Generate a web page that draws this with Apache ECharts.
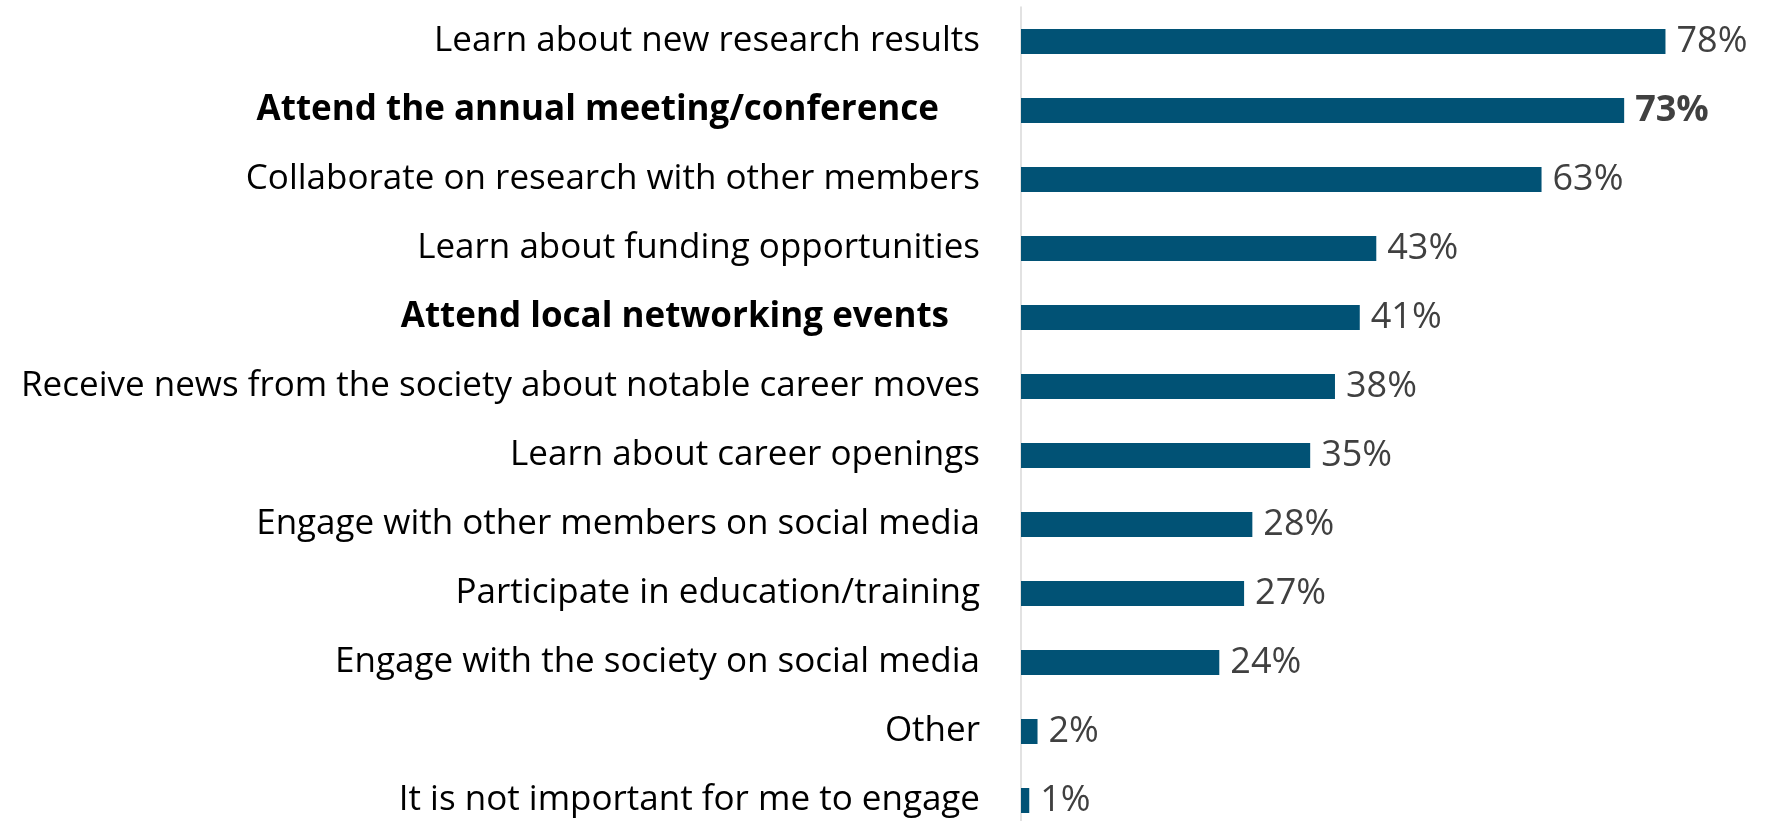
<!DOCTYPE html>
<html>
<head>
<meta charset="utf-8">
<script src="https://cdn.jsdelivr.net/npm/echarts@6/dist/echarts.min.js"></script>
<style>
  html, body { margin: 0; padding: 0; background: #fff; width: 1783px; height: 821px; overflow: hidden; }
  /* the plot runs past the bottom edge in the original, so the chart is a bit taller than the page */
  #chart { width: 1783px; height: 835px; }
</style>
</head>
<body>
<div id="chart"></div>
<script>
  // categories, top to bottom
  const categories = [
    'Learn about new research results',
    'Attend the annual meeting/conference',
    'Collaborate on research with other members',
    'Learn about funding opportunities',
    'Attend local networking events',
    'Receive news from the society about notable career moves',
    'Learn about career openings',
    'Engage with other members on social media',
    'Participate in education/training',
    'Engage with the society on social media',
    'Other',
    'It is not important for me to engage'
  ]
  const values = [78, 73, 63, 43, 41, 38, 35, 28, 27, 24, 2, 1]
  // categories drawn in bold on the axis
  const boldCategories = ['Attend the annual meeting/conference', 'Attend local networking events']
  // only this value label is bold
  const boldValueIndex = 1

  const chart = echarts.init(document.getElementById('chart'))
  const fontFamily = 'Open Sans'
  const fontSize = 35

  const option = {
    animation: false,
    grid: {
      left: 1021,
      width: 661,
      top: 7,
      bottom: 0
    },
    xAxis: {
      type: 'value',
      min: 0,
      max: 80,
      show: false
    },
    yAxis: {
      type: 'category',
      data: categories,
      inverse: true,
      axisLine: { show: true, lineStyle: { color: '#d9d9d9', width: 1.5 } },
      axisTick: { show: false },
      axisLabel: {
        margin: 41,
        color: '#000',
        fontFamily: fontFamily,
        fontSize: fontSize,
        formatter: function (v, i) {
          if (i === 1) return '{b1|' + v + '}'
          if (boldCategories.indexOf(v) >= 0) return '{b2|' + v + '}'
          return v
        },
        rich: {
          b1: { fontWeight: 'bold', fontFamily: fontFamily, fontSize: fontSize, color: '#000', padding: [0, 41, 0, 0] },
          b2: { fontWeight: 'bold', fontFamily: fontFamily, fontSize: fontSize, color: '#000', padding: [0, 31, 0, 0] }
        }
      }
    },
    series: [
      {
        type: 'bar',
        data: values.map(function (v, i) {
          const item = { value: v }
          if (i === boldValueIndex) item.label = { fontWeight: 'bold' }
          return item
        }),
        barWidth: 25,
        itemStyle: { color: '#015275' },
        label: {
          show: true,
          position: 'right',
          distance: 11,
          formatter: '{c}%',
          color: '#404040',
          fontFamily: fontFamily,
          fontSize: 36
        }
      }
    ]
  }
  chart.setOption(option)
</script>
</body>
</html>
